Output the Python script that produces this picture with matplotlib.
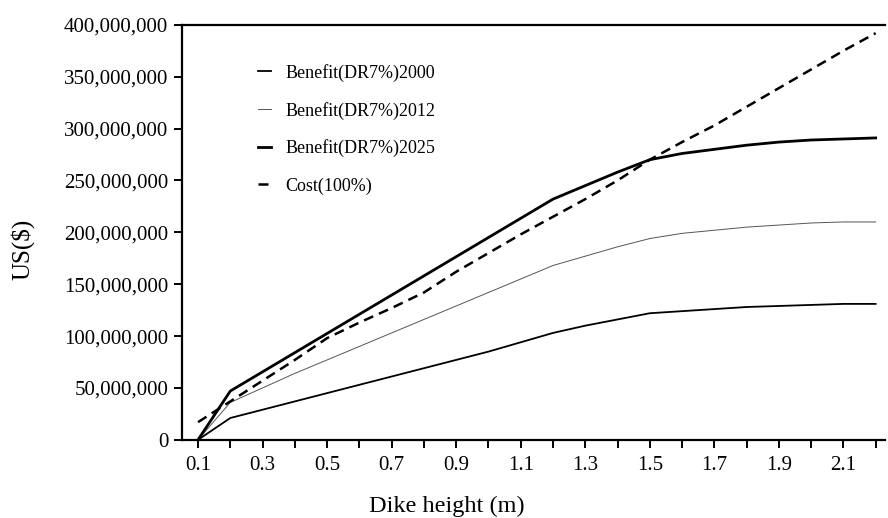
import numpy as np
import matplotlib.pyplot as plt
from matplotlib.ticker import FuncFormatter, MultipleLocator

# dike heights (m)
height = [0.1, 0.2, 0.3, 0.4, 0.5, 0.6, 0.7, 0.8, 0.9, 1.0, 1.1,
          1.2, 1.3, 1.4, 1.5, 1.6, 1.7, 1.8, 1.9, 2.0, 2.1, 2.2]

# values in million US$
benefit_2000 = [0, 21, 29, 37, 45, 53, 61, 69, 77, 85, 94,
                103, 110, 116, 122, 124, 126, 128, 129, 130, 131, 131]
benefit_2012 = [0, 36, 50, 64, 77, 90, 103, 116, 129, 142, 155,
                168, 177, 186, 194, 199, 202, 205, 207, 209, 210, 210]
benefit_2025 = [0, 47, 65.5, 84, 102.5, 121, 139.5, 158, 176.5, 195, 213.5,
                232, 245, 258, 270, 276, 280, 284, 287, 289, 290, 291]
cost_100 = [17, 37, 57, 77, 98, 113, 127, 142, 162, 180, 198,
            215, 232, 250, 270, 287, 303, 321, 339, 357, 375, 392]

plt.rcParams['font.family'] = ['Liberation Serif', 'DejaVu Serif']

fig = plt.figure(figsize=(8.88, 5.18), dpi=100)
ax = fig.add_axes([0.205, 0.151, 0.792, 0.801])

x = np.array(height)
m = 1e6
ax.plot(x, np.array(benefit_2000) * m, color='black', lw=1.3, label='Benefit(DR7%)2000')
ax.plot(x, np.array(benefit_2012) * m, color='#555555', lw=0.7, label='Benefit(DR7%)2012')
ax.plot(x, np.array(benefit_2025) * m, color='black', lw=2.0, label='Benefit(DR7%)2025')
ax.plot(x, np.array(cost_100) * m, color='black', lw=1.8, ls=(0, (4, 2.5)), label='Cost(100%)')

ax.set_xlim(0.0504, 2.23)
ax.set_ylim(0, 400e6)
ax.xaxis.set_major_locator(MultipleLocator(0.2, offset=0.1))
ax.xaxis.set_minor_locator(MultipleLocator(0.2))
ax.xaxis.set_major_formatter(FuncFormatter(lambda v, p: f'{v:.1f}'))
ax.yaxis.set_major_locator(MultipleLocator(50e6))
ax.yaxis.set_major_formatter(FuncFormatter(lambda v, p: f'{int(round(v)):,}'))

ax.spines['right'].set_visible(False)
for s in ['left', 'bottom', 'top']:
    ax.spines[s].set_linewidth(1.6)
ax.tick_params(which='both', direction='out', length=6, width=1.4, labelsize=15, top=False)
ax.tick_params(axis='y', pad=4)
ax.tick_params(axis='x', pad=6)

ax.set_xlabel('Dike height (m)', fontsize=17.5)
ax.xaxis.set_label_coords(0.377, -0.135)
ax.set_ylabel('US($)', fontsize=18)
ax.yaxis.set_label_coords(-0.21, 0.46)

ax.legend(loc='upper left', bbox_to_anchor=(0.085, 0.945), frameon=False, fontsize=13,
          handlelength=0.7, handletextpad=0.8, labelspacing=1.1)

fig.savefig('out.png', dpi=100)
